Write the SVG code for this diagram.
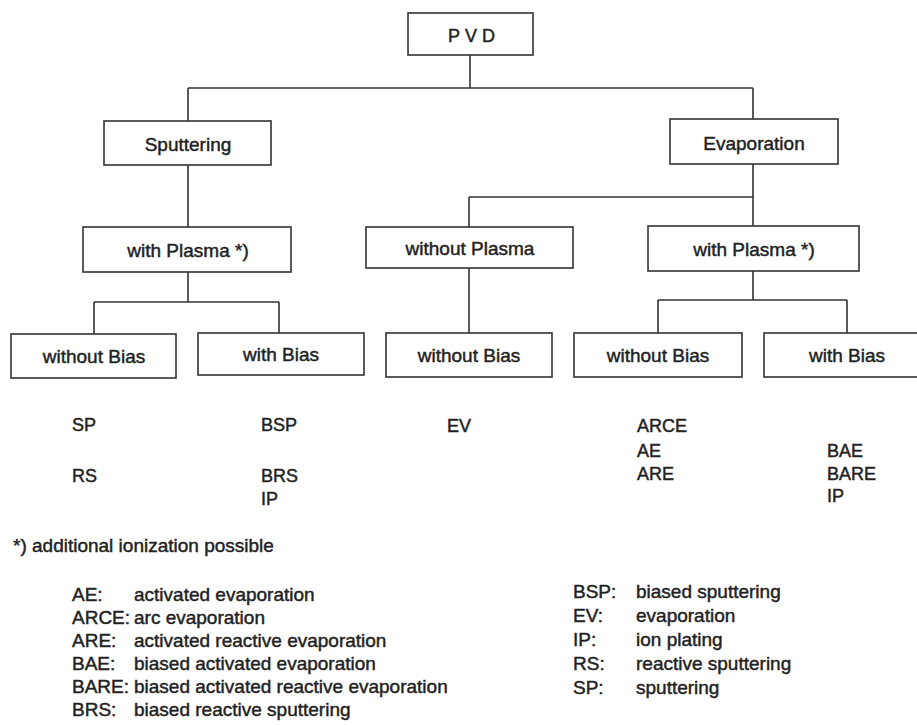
<svg xmlns="http://www.w3.org/2000/svg" width="917" height="725" viewBox="0 0 917 725">
<style>
  .box { fill: #ffffff; stroke: #333333; stroke-width: 1.6; }
  .lbl { font-family: "Liberation Sans", Arial, sans-serif; font-size: 19px; fill: #222222; stroke: #222222; stroke-width: 0.45; text-anchor: middle; }
  .ab { font-family: "Liberation Sans", Arial, sans-serif; font-size: 18px; fill: #222222; stroke: #222222; stroke-width: 0.45; }
  .lg { font-family: "Liberation Sans", Arial, sans-serif; font-size: 19px; fill: #222222; stroke: #222222; stroke-width: 0.45; }
  .con { fill: none; stroke: #333333; stroke-width: 1.6; }
</style>
<rect x="0" y="0" width="917" height="725" fill="#ffffff"/>

<g id="connectors">
  <path class="con" d="M470 55 V88 M188 88 H753 M188 88 V121 M753 88 V119"/>
  <path class="con" d="M188 165 V227"/>
  <path class="con" d="M753 164 V226 M469 197 H753 M469 197 V227"/>
  <path class="con" d="M469 268 V333"/>
  <path class="con" d="M188 272 V302 M94 302 H279 M94 302 V334 M279 302 V333"/>
  <path class="con" d="M753 271 V300 M658 300 H847 M658 300 V333 M847 300 V333"/>
</g>

<g id="pvd">
  <rect class="box" x="408" y="13" width="125" height="42"/>
  <text class="ab" x="448" y="42" font-size="17" letter-spacing="5">PVD</text>
</g>
<g id="sputtering">
  <rect class="box" x="104" y="121" width="167" height="44"/>
  <text class="lbl" x="188" y="151">Sputtering</text>
</g>
<g id="evaporation">
  <rect class="box" x="670" y="119" width="168" height="45"/>
  <text class="lbl" x="754" y="150">Evaporation</text>
</g>
<g id="sp-with-plasma">
  <rect class="box" x="83" y="227" width="208" height="45"/>
  <text class="lbl" x="188" y="257">with Plasma *)</text>
</g>
<g id="ev-without-plasma">
  <rect class="box" x="366" y="227" width="207" height="41"/>
  <text class="lbl" x="470" y="255">without Plasma</text>
</g>
<g id="ev-with-plasma">
  <rect class="box" x="648" y="226" width="211" height="45"/>
  <text class="lbl" x="754" y="256">with Plasma *)</text>
</g>
<g id="sp-without-bias">
  <rect class="box" x="11" y="334" width="165" height="44"/>
  <text class="lbl" x="94" y="363">without Bias</text>
</g>
<g id="sp-with-bias">
  <rect class="box" x="198" y="333" width="166" height="42"/>
  <text class="lbl" x="281" y="361">with Bias</text>
</g>
<g id="ev-without-bias-1">
  <rect class="box" x="386" y="333" width="166" height="44"/>
  <text class="lbl" x="469" y="362">without Bias</text>
</g>
<g id="ev-without-bias-2">
  <rect class="box" x="574" y="333" width="168" height="44"/>
  <text class="lbl" x="658" y="362">without Bias</text>
</g>
<g id="ev-with-bias">
  <rect class="box" x="764" y="333" width="166" height="44"/>
  <text class="lbl" x="847" y="362">with Bias</text>
</g>

<g id="abbreviations">
  <text class="ab" x="72" y="431">SP</text>
  <text class="ab" x="72" y="482">RS</text>
  <text class="ab" x="261" y="431">BSP</text>
  <text class="ab" x="261" y="482">BRS</text>
  <text class="ab" x="261" y="505">IP</text>
  <text class="ab" x="447" y="432">EV</text>
  <text class="ab" x="637" y="432">ARCE</text>
  <text class="ab" x="637" y="457">AE</text>
  <text class="ab" x="637" y="480">ARE</text>
  <text class="ab" x="827" y="457">BAE</text>
  <text class="ab" x="827" y="480">BARE</text>
  <text class="ab" x="827" y="502">IP</text>
</g>

<g id="legend">
  <text class="lg" x="13" y="552">*) additional ionization possible</text>
  <text class="lg" x="72" y="601">AE:</text><text class="lg" x="134" y="601">activated evaporation</text>
  <text class="lg" x="72" y="624">ARCE:</text><text class="lg" x="134" y="624">arc evaporation</text>
  <text class="lg" x="72" y="647">ARE:</text><text class="lg" x="134" y="647">activated reactive evaporation</text>
  <text class="lg" x="72" y="670">BAE:</text><text class="lg" x="134" y="670">biased activated evaporation</text>
  <text class="lg" x="72" y="693">BARE:</text><text class="lg" x="134" y="693">biased activated reactive evaporation</text>
  <text class="lg" x="72" y="716">BRS:</text><text class="lg" x="134" y="716">biased reactive sputtering</text>
  <text class="lg" x="573" y="598">BSP:</text><text class="lg" x="636" y="598">biased sputtering</text>
  <text class="lg" x="573" y="622">EV:</text><text class="lg" x="636" y="622">evaporation</text>
  <text class="lg" x="573" y="646">IP:</text><text class="lg" x="636" y="646">ion plating</text>
  <text class="lg" x="573" y="670">RS:</text><text class="lg" x="636" y="670">reactive sputtering</text>
  <text class="lg" x="573" y="694">SP:</text><text class="lg" x="636" y="694">sputtering</text>
</g>
</svg>
